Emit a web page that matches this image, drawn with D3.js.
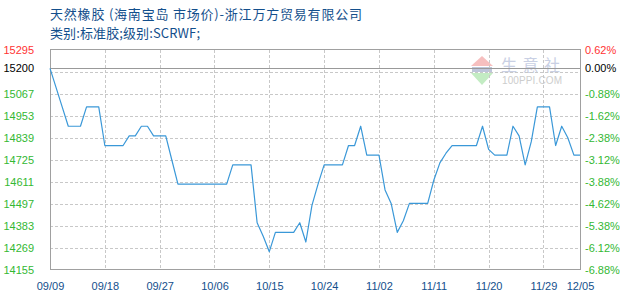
<!DOCTYPE html>
<html>
<head>
<meta charset="utf-8">
<script src="https://cdn.jsdelivr.net/npm/d3@7"></script>
<style>
  body { margin: 0; background: #fff; }
  svg { display: block; }
</style>
</head>
<body>
<div id="chart"></div>
<script>
// daily price, 09/09 .. 12/05
const startDate = "2023-09-09";
const prices = [
  15200, 15100, 15000, 14900, 14900, 14900, 15000, 15000, 15000, 14800,
  14800, 14800, 14800, 14850, 14850, 14900, 14900, 14850, 14850, 14850,
  14725, 14600, 14600, 14600, 14600, 14600, 14600, 14600, 14600, 14600,
  14700, 14700, 14700, 14700, 14400, 14330, 14250, 14350, 14350, 14350,
  14350, 14400, 14300, 14490, 14600, 14700, 14700, 14700, 14700, 14800,
  14800, 14900, 14750, 14750, 14750, 14570, 14500, 14350, 14410, 14500,
  14500, 14500, 14500, 14620, 14710, 14760, 14800, 14800, 14800, 14800,
  14800, 14900, 14780, 14750, 14750, 14750, 14900, 14850, 14700, 14820,
  15000, 15000, 15000, 14800, 14900, 14840, 14750, 14750
];
const basePrice = 15200;
const gridValues = [15295, 15181, 15067, 14953, 14839, 14725, 14611, 14497, 14383, 14269, 14155];
const leftTicks = [15295, 15200, 15067, 14953, 14839, 14725, 14611, 14497, 14383, 14269, 14155];
const rightLabels = ["0.62%", "0.00%", "-0.88%", "-1.62%", "-2.38%", "-3.12%", "-3.88%", "-4.62%", "-5.38%", "-6.12%", "-6.88%"];
const xTickLabels = ["09/09", "09/18", "09/27", "10/06", "10/15", "10/24", "11/02", "11/11", "11/20", "11/29", "12/05"];
const title = "天然橡胶 (海南宝岛 市场价)-浙江万方贸易有限公司";
const subtitle = "类别:标准胶;级别:SCRWF;";

let width = 630;
let height = 300;
let margin = ({top: 50, right: 50, bottom: 30, left: 50});
let red = "#ff3333", green = "#33b833", navy = "#134f8c";

const parseDay = d3.timeParse("%Y-%m-%d");
const day0 = parseDay(startDate);
const data = prices.map((v, i) => ({date: d3.timeDay.offset(day0, i), value: v}));
const tickDates = xTickLabels.map(s => d3.timeParse("%Y/%m/%d")(day0.getFullYear() + "/" + s));

const xScale = d3.scaleTime()
    .domain(d3.extent(data, d => d.date))
    .range([margin.left, width - margin.right]);
const yScale = d3.scaleLinear()
    .domain([d3.min(gridValues), d3.max(gridValues)])
    .range([height - margin.bottom, margin.top]);

const svg = d3.select("#chart").append("svg")
    .attr("width", width)
    .attr("height", height)
    .attr("viewBox", [0, 0, width, height])
    .style("font-family", "'Liberation Sans', Arial, sans-serif");

// titles
svg.append("text")
    .attr("x", 50).attr("y", 19)
    .attr("fill", navy)
    .attr("font-size", 13)
    .attr("font-family", "'Noto Sans CJK SC', sans-serif")
    .attr("textLength", 312).attr("lengthAdjust", "spacing")
    .text(title);
svg.append("text")
    .attr("x", 50).attr("y", 38)
    .attr("fill", navy)
    .attr("font-size", 13)
    .attr("font-family", "'Noto Sans CJK SC', sans-serif")
    .attr("textLength", 150).attr("lengthAdjust", "spacing")
    .text(subtitle);

// watermark
const wm = svg.append("g").attr("opacity", 0.9);
wm.append("path").attr("d", "M482,56 L493,66 L471,66 Z").attr("fill", "#f6b9b9");
wm.append("rect").attr("x", 472).attr("y", 67).attr("width", 20).attr("height", 5).attr("fill", "#b8c0d8");
wm.append("path").attr("d", "M471,73 L493,73 L482,85 Z").attr("fill", "#bdeabd");
wm.append("text").attr("x", 501).attr("y", 71)
    .attr("font-size", 16).attr("fill", "#c4cbe2")
    .attr("font-family", "'Noto Sans CJK SC', sans-serif")
    .attr("textLength", 59).attr("lengthAdjust", "spacing")
    .text("生意社");
wm.append("text").attr("x", 502).attr("y", 84)
    .attr("font-size", 10).attr("fill", "#c8c8c8")
    .attr("textLength", 60).attr("lengthAdjust", "spacing")
    .text("100PPI.COM");

// grid
const grid = svg.append("g")
    .attr("stroke", "#c8c8c8")
    .attr("stroke-dasharray", "3,2")
    .attr("shape-rendering", "crispEdges");
grid.selectAll(".hgrid")
    .data(gridValues.slice(1, -1))
    .join("line")
    .attr("x1", margin.left).attr("x2", width - margin.right)
    .attr("y1", d => Math.round(yScale(d)) + 0.5)
    .attr("y2", d => Math.round(yScale(d)) + 0.5);
grid.selectAll(".vgrid")
    .data(tickDates.slice(1, -1))
    .join("line")
    .attr("y1", margin.top).attr("y2", height - margin.bottom)
    .attr("x1", d => Math.round(xScale(d)) + 0.5)
    .attr("x2", d => Math.round(xScale(d)) + 0.5);

// base line
svg.append("line")
    .attr("x1", margin.left).attr("x2", width - margin.right)
    .attr("y1", Math.round(yScale(basePrice)) + 0.5)
    .attr("y2", Math.round(yScale(basePrice)) + 0.5)
    .attr("stroke", "#999")
    .attr("shape-rendering", "crispEdges");

// frame
svg.append("rect")
    .attr("x", margin.left + 0.5).attr("y", margin.top - 0.5)
    .attr("width", width - margin.left - margin.right)
    .attr("height", height - margin.top - margin.bottom)
    .attr("fill", "none")
    .attr("stroke", "#a0a0a0")
    .attr("shape-rendering", "crispEdges");

// left axis
const yAxisLeft = d3.axisLeft(yScale).tickValues(leftTicks).tickSize(0).tickPadding(0)
    .tickFormat(d3.format("d"));
svg.append("g")
    .attr("transform", `translate(${margin.left - 16},0)`)
    .call(yAxisLeft)
    .call(g => g.select(".domain").remove())
    .call(g => g.selectAll("text")
        .attr("font-family", "'Liberation Sans', Arial, sans-serif")
        .attr("font-size", 11)
        .attr("fill", d => d > basePrice ? red : d == basePrice ? "#000" : green));

// right axis
const yAxisRight = d3.axisRight(yScale).tickValues(leftTicks).tickSize(0).tickPadding(0)
    .tickFormat((d, i) => rightLabels[i]);
svg.append("g")
    .attr("transform", `translate(${width - margin.right + 5},0)`)
    .call(yAxisRight)
    .call(g => g.select(".domain").remove())
    .call(g => g.selectAll("text")
        .attr("font-family", "'Liberation Sans', Arial, sans-serif")
        .attr("font-size", 11)
        .attr("fill", d => d > basePrice ? red : d == basePrice ? "#000" : green));

// x axis
const xAxis = d3.axisBottom(xScale).tickValues(tickDates).tickSize(0).tickPadding(0)
    .tickFormat((d, i) => xTickLabels[i]);
svg.append("g")
    .attr("transform", `translate(0,${height - margin.bottom + 12})`)
    .call(xAxis)
    .call(g => g.select(".domain").remove())
    .call(g => g.selectAll("text")
        .attr("font-family", "'Liberation Sans', Arial, sans-serif")
        .attr("font-size", 11)
        .attr("fill", navy));

// price line
const line = d3.line()
    .x(d => xScale(d.date))
    .y(d => yScale(d.value));
svg.append("path")
    .attr("fill", "none")
    .attr("stroke", "#3a98d8")
    .attr("stroke-width", 1.2)
    .attr("stroke-linejoin", "round")
    .attr("d", line(data));
</script>
</body>
</html>
